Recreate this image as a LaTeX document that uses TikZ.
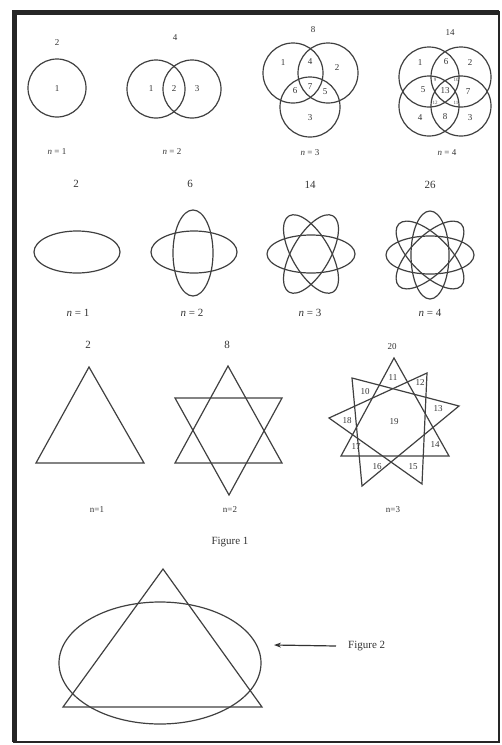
\documentclass[tikz,border=0pt]{standalone}
\usepackage{fontspec}
\setmainfont{Liberation Serif}
\usetikzlibrary{arrows.meta}
\newcommand{\nn}[1]{\textit{n} = #1}
\begin{document}
\begin{tikzpicture}[x=1pt,y=-1pt,
  shp/.style={draw=black!75,line width=1.2pt},
  lab/.style={text=black!80,font=\fontsize{9}{10}\selectfont,inner sep=0pt},
  biglab/.style={text=black!80,font=\fontsize{11}{12}\selectfont,inner sep=0pt},
  tiny/.style={text=black!70,font=\fontsize{5}{6}\selectfont,inner sep=0pt}]
\useasboundingbox (0,0) rectangle (502,745);
% frame
\draw[line width=1.5pt,black!85] (14,12) rectangle (499,742);
\draw[line width=5pt,black!85] (14,742) -- (14,12) -- (499,12);
% Row 1: circles
\node[lab] (c1t) at (57,43) {2};
\draw[shp] (57,88) circle (29);
\node[lab] (c1a) at (57,89) {1};
\node[lab] (c1n) at (57,152) {\nn{1}};
\node[lab] (c2t) at (175,38) {4};
\draw[shp] (156,89) circle (29);
\draw[shp] (192,89) circle (29);
\node[lab] (c2a) at (151,89) {1};
\node[lab] (c2b) at (174,89) {2};
\node[lab] (c2c) at (197,89) {3};
\node[lab] (c2n) at (172,152) {\nn{2}};
\node[lab] (c3t) at (313,30) {8};
\draw[shp] (293,73) circle (30);
\draw[shp] (328,73) circle (30);
\draw[shp] (310,107) circle (30);
\node[lab] at (283,63) {1};
\node[lab] at (310,62) {4};
\node[lab] at (337,68) {2};
\node[lab] at (295,91) {6};
\node[lab] at (310,87) {7};
\node[lab] at (325,92) {5};
\node[lab] at (310,118) {3};
\node[lab] at (310,153) {\nn{3}};
\node[lab] (c4t) at (450,33) {14};
\draw[shp] (429,77) circle (30);
\draw[shp] (461,77) circle (30);
\draw[shp] (429,106) circle (30);
\draw[shp] (461,106) circle (30);
\node[lab] at (420,63) {1};
\node[lab] at (446,62) {6};
\node[lab] at (470,63) {2};
\node[lab] at (423,90) {5};
\node[lab] at (445,91) {13};
\node[lab] at (468,92) {7};
\node[lab] at (420,118) {4};
\node[lab] at (445,117) {8};
\node[lab] at (470,118) {3};
\node[tiny] at (435,80) {9};
\node[tiny] at (456,80) {10};
\node[tiny] at (435,103) {12};
\node[tiny] at (456,103) {11};
\node[lab] at (447,153) {\nn{4}};
% Row 2: ellipses
\node[biglab] at (76,184) {2};
\draw[shp] (77,252) ellipse (43 and 21);
\node[biglab] at (78,313) {\nn{1}};
\node[biglab] at (190,184) {6};
\draw[shp] (194,252) ellipse (43 and 21);
\draw[shp] (193,253) ellipse (20 and 43);
\node[biglab] at (192,313) {\nn{2}};
\node[biglab] at (310,185) {14};
\foreach \a in {0,60,120} \draw[shp,rotate around={\a:(311,254)}] (311,254) ellipse (44 and 19);
\node[biglab] at (310,313) {\nn{3}};
\node[biglab] at (430,185) {26};
\foreach \a in {0,45,90,135} \draw[shp,rotate around={\a:(430,255)}] (430,255) ellipse (44 and 19);
\node[biglab] at (430,313) {\nn{4}};
% Row 3: triangles
\node[biglab] at (88,345) {2};
\draw[shp] (89,367) -- (144,463) -- (36,463) -- cycle;
\node[lab] at (97,510) {n=1};
\node[biglab] at (227,345) {8};
\draw[shp] (228,366) -- (282,463) -- (175,463) -- cycle;
\draw[shp] (175,398) -- (282,398) -- (229,495) -- cycle;
\node[lab] at (230,510) {n=2};
\node[lab] at (392,347) {20};
\coordinate (p1) at (394,358);
\coordinate (p2) at (427,373);
\coordinate (p3) at (459,406);
\coordinate (p4) at (449,456);
\coordinate (p5) at (422,484);
\coordinate (p6) at (362,486);
\coordinate (p7) at (341,456);
\coordinate (p8) at (329,418);
\coordinate (p9) at (352,378);
\draw[shp] (p1) -- (p4) -- (p7) -- cycle;
\draw[shp] (p2) -- (p5) -- (p8) -- cycle;
\draw[shp] (p3) -- (p6) -- (p9) -- cycle;
\node[lab] at (393,378) {11};
\node[lab] at (420,383) {12};
\node[lab] at (365,392) {10};
\node[lab] at (438,409) {13};
\node[lab] at (347,421) {18};
\node[lab] at (394,422) {19};
\node[lab] at (435,445) {14};
\node[lab] at (356,447) {17};
\node[lab] at (377,467) {16};
\node[lab] at (413,467) {15};
\node[lab] at (393,510) {n=3};
\node[biglab] (fig1) at (230,542) {Figure 1};
% Figure 2
\draw[shp] (160,663) ellipse (101 and 61);
\draw[shp] (163,569) -- (262,707) -- (63,707) -- cycle;
\node[biglab,anchor=west] (fig2) at (348,646) {Figure 2};
\coordinate (arrtip) at (274,645);
\draw[black!80,line width=1.2pt,-{Stealth[length=7pt,width=5pt]}] (fig2.west) ++(-12,0) -- (arrtip);
\end{tikzpicture}
\end{document}
